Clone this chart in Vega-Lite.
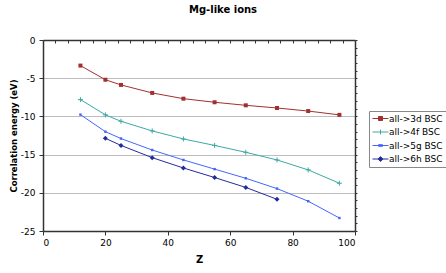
{
  "$schema": "https://vega.github.io/schema/vega-lite/v6.json",
  "width": 312,
  "height": 191,
  "autosize": {"type": "none"},
  "padding": {"left": 43, "top": 40, "right": 91, "bottom": 42},
  "background": "white",
  "title": {"text": "Mg-like ions", "font": "DejaVu Sans", "fontSize": 10, "fontWeight": "bold", "anchor": "middle", "dx": 24, "offset": 21, "color": "black"},
  "config": {"font": "DejaVu Sans"},
  "data": {"values": [
    {"series": "all->3d BSC", "z": 12, "e": -3.35},
    {"series": "all->3d BSC", "z": 20, "e": -5.2},
    {"series": "all->3d BSC", "z": 25, "e": -5.88},
    {"series": "all->3d BSC", "z": 35, "e": -6.93},
    {"series": "all->3d BSC", "z": 45, "e": -7.68},
    {"series": "all->3d BSC", "z": 55, "e": -8.15},
    {"series": "all->3d BSC", "z": 65, "e": -8.55},
    {"series": "all->3d BSC", "z": 75, "e": -8.9},
    {"series": "all->3d BSC", "z": 85, "e": -9.3},
    {"series": "all->3d BSC", "z": 95, "e": -9.8},
    {"series": "all->4f BSC", "z": 12, "e": -7.8},
    {"series": "all->4f BSC", "z": 20, "e": -9.8},
    {"series": "all->4f BSC", "z": 25, "e": -10.64},
    {"series": "all->4f BSC", "z": 35, "e": -11.9},
    {"series": "all->4f BSC", "z": 45, "e": -12.95},
    {"series": "all->4f BSC", "z": 55, "e": -13.8},
    {"series": "all->4f BSC", "z": 65, "e": -14.7},
    {"series": "all->4f BSC", "z": 75, "e": -15.7},
    {"series": "all->4f BSC", "z": 85, "e": -17.0},
    {"series": "all->4f BSC", "z": 95, "e": -18.75},
    {"series": "all->5g BSC", "z": 12, "e": -9.77},
    {"series": "all->5g BSC", "z": 20, "e": -12.0},
    {"series": "all->5g BSC", "z": 25, "e": -12.9},
    {"series": "all->5g BSC", "z": 35, "e": -14.4},
    {"series": "all->5g BSC", "z": 45, "e": -15.7},
    {"series": "all->5g BSC", "z": 55, "e": -16.9},
    {"series": "all->5g BSC", "z": 65, "e": -18.1},
    {"series": "all->5g BSC", "z": 75, "e": -19.45},
    {"series": "all->5g BSC", "z": 85, "e": -21.1},
    {"series": "all->5g BSC", "z": 95, "e": -23.3},
    {"series": "all->6h BSC", "z": 20, "e": -12.87},
    {"series": "all->6h BSC", "z": 25, "e": -13.8},
    {"series": "all->6h BSC", "z": 35, "e": -15.4},
    {"series": "all->6h BSC", "z": 45, "e": -16.75},
    {"series": "all->6h BSC", "z": 55, "e": -18.0},
    {"series": "all->6h BSC", "z": 65, "e": -19.3},
    {"series": "all->6h BSC", "z": 75, "e": -20.85}
  ]},
  "layer": [
    {
      "mark": {"type": "line", "strokeWidth": 1},
      "encoding": {
        "x": {"field": "z", "type": "quantitative", "scale": {"domain": [0, 100], "nice": false},
          "axis": {"values": [0, 20, 40, 60, 80, 100], "title": "Z", "titleFont": "DejaVu Sans", "titleFontSize": 10, "titleFontWeight": "bold", "titleColor": "black", "titleY": 28, "titleBaseline": "middle", "labelFont": "DejaVu Sans", "labelFontSize": 9, "labelColor": "black", "tickColor": "#333333", "tickSize": 4, "labelPadding": 3, "domainColor": "#333333", "domainWidth": 1.5, "grid": false}},
        "y": {"field": "e", "type": "quantitative", "scale": {"domain": [-25, 0], "nice": false},
          "axis": {"values": [-25, -20, -15, -10, -5, 0], "labelExpr": "datum.value + ''", "title": "Correlation energy (eV)", "titleFont": "DejaVu Sans", "titleFontSize": 8.5, "titleFontWeight": "bold", "titleColor": "black", "titleX": -30, "titleBaseline": "middle", "labelFont": "DejaVu Sans", "labelFontSize": 9, "labelColor": "black", "tickColor": "#333333", "tickSize": 4, "labelPadding": 4, "domainColor": "#333333", "domainWidth": 1.5, "grid": true, "gridColor": "#bdbdbd", "gridWidth": 1}},
        "color": {"field": "series", "type": "nominal",
          "scale": {"domain": ["all->3d BSC", "all->4f BSC", "all->5g BSC", "all->6h BSC"], "range": ["#A33030", "#3BAAA6", "#4466FF", "#222C9C"]},
          "legend": {"title": null, "orient": "none", "legendX": 326, "legendY": 71, "symbolType": "M-1,0H3", "symbolSize": 64, "symbolStrokeWidth": 1, "labelFont": "DejaVu Sans", "labelFontSize": 9, "labelColor": "black", "strokeColor": "#888888", "padding": 3, "rowPadding": 3.5, "labelOffset": 8,
            "encode": {"symbols": {"update": {
              "shape": {"signal": "datum.value === 'all->3d BSC' ? 'M-1,0H3M0.5,-0.5H1.5V0.5H0.5Z' : datum.value === 'all->4f BSC' ? 'M-1,0H3M1,-0.6V0.6' : datum.value === 'all->5g BSC' ? 'M-1,0H3M0.5,-0.2H1.5V0.2H0.5Z' : 'M-1,0H3M1,-0.6L1.6,0L1,0.6L0.4,0Z'"},
              "fill": {"signal": "datum.value === 'all->3d BSC' ? '#A33030' : datum.value === 'all->4f BSC' ? '#3BAAA6' : datum.value === 'all->5g BSC' ? '#4466FF' : '#222C9C'"}
            }}}}}
      }
    },
    {
      "transform": [{"filter": "datum.series === 'all->3d BSC'"}],
      "mark": {"type": "point", "shape": "square", "filled": true, "size": 16, "opacity": 1},
      "encoding": {
        "x": {"field": "z", "type": "quantitative", "axis": null},
        "y": {"field": "e", "type": "quantitative", "axis": null},
        "color": {"field": "series", "type": "nominal", "legend": null}
      }
    },
    {
      "transform": [{"filter": "datum.series === 'all->4f BSC'"}],
      "mark": {"type": "point", "shape": "M-1,0H1M0,-1V1", "filled": false, "size": 25, "strokeWidth": 1, "opacity": 1},
      "encoding": {
        "x": {"field": "z", "type": "quantitative", "axis": null},
        "y": {"field": "e", "type": "quantitative", "axis": null},
        "color": {"field": "series", "type": "nominal", "legend": null}
      }
    },
    {
      "transform": [{"filter": "datum.series === 'all->5g BSC'"}],
      "mark": {"type": "point", "shape": "square", "filled": true, "size": 6, "opacity": 1},
      "encoding": {
        "x": {"field": "z", "type": "quantitative", "axis": null},
        "y": {"field": "e", "type": "quantitative", "axis": null},
        "color": {"field": "series", "type": "nominal", "legend": null}
      }
    },
    {
      "transform": [{"filter": "datum.series === 'all->6h BSC'"}],
      "mark": {"type": "point", "shape": "diamond", "filled": true, "size": 25, "opacity": 1},
      "encoding": {
        "x": {"field": "z", "type": "quantitative", "axis": null},
        "y": {"field": "e", "type": "quantitative", "axis": null},
        "color": {"field": "series", "type": "nominal", "legend": null}
      }
    },
    {
      "transform": [{"filter": "datum.z < 0"}],
      "mark": {"type": "point"},
      "encoding": {
        "x": {"field": "z", "type": "quantitative",
          "axis": {"values": [0, 4, 8, 12, 16, 20, 24, 28, 32, 36, 40, 44, 48, 52, 56, 60, 64, 68, 72, 76, 80, 84, 88, 92, 96, 100], "labels": false, "domain": false, "grid": false, "tickSize": -3, "tickColor": "#333333", "title": null}},
        "y": {"field": "e", "type": "quantitative",
          "axis": {"values": [-25, -24, -23, -22, -21, -20, -19, -18, -17, -16, -15, -14, -13, -12, -11, -10, -9, -8, -7, -6, -5, -4, -3, -2, -1, 0], "labels": false, "domain": false, "grid": false, "tickSize": 2, "tickColor": "#333333", "title": null}}
      }
    },
    {
      "transform": [{"filter": "datum.z < 0"}],
      "mark": {"type": "point"},
      "encoding": {
        "x": {"field": "z", "type": "quantitative",
          "axis": {"orient": "top", "labels": false, "ticks": false, "grid": false, "domain": true, "domainColor": "#333333", "domainWidth": 1.5, "title": null}},
        "y": {"field": "e", "type": "quantitative",
          "axis": {"orient": "right", "labels": false, "ticks": false, "grid": false, "domain": true, "domainColor": "#333333", "domainWidth": 1.5, "title": null}}
      }
    }
  ],
  "resolve": {"axis": {"x": "independent", "y": "independent"}}
}
